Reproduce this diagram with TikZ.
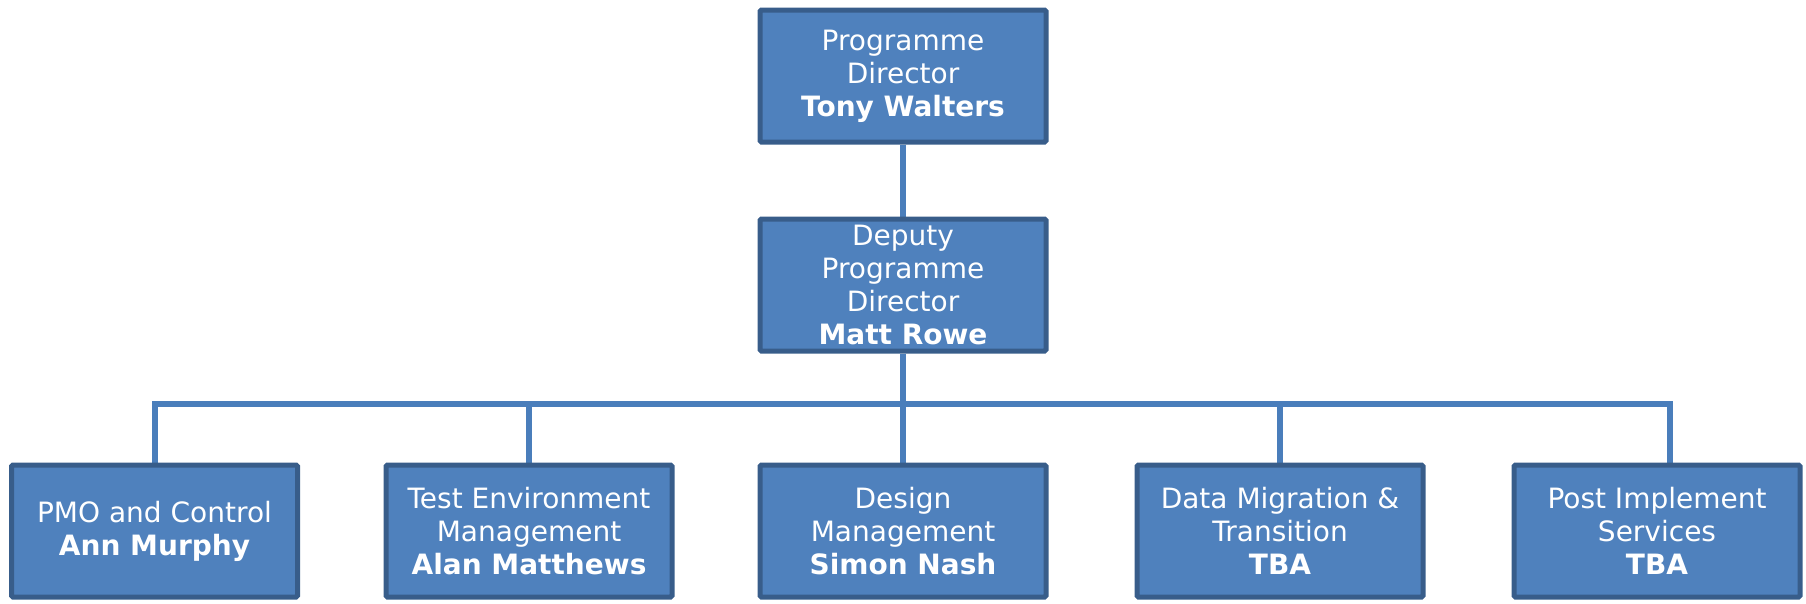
\documentclass[tikz,border=0pt]{standalone}
\usepackage{fontspec}
\setmainfont{DejaVu Sans}
\usetikzlibrary{calc}
\definecolor{boxfill}{HTML}{4F81BD}
\definecolor{boxline}{HTML}{385D8A}
\definecolor{connline}{HTML}{4A7EBB}
\pgfdeclarelayer{background}
\pgfsetlayers{background,main}
\begin{document}
\begin{tikzpicture}[x=1pt,y=-1pt,
  orgbox/.style={draw=boxline, fill=boxfill, line width=5pt, rounded corners=1.5pt,
    minimum width=286pt, minimum height=132pt, inner sep=0pt, text=white,
    align=center, font=\fontsize{28}{33}\selectfont},
  conn/.style={draw=connline, line width=6pt}]
\useasboundingbox (0,0) rectangle (1806,603);
\node[orgbox] (top) at (903,76) {Programme\\Director\\\textbf{Tony Walters}};
\node[orgbox] (mid) at (903,285) {\raisebox{-6pt}{\parbox{280pt}{\centering Deputy\\Programme\\Director\\\textbf{Matt Rowe}}}};
\node[orgbox] (b1) at (154.5,531) {PMO and Control\\\textbf{Ann Murphy}};
\node[orgbox] (b2) at (529,531) {Test Environment\\Management\\\textbf{Alan Matthews}};
\node[orgbox] (b3) at (903,531) {Design\\Management\\\textbf{Simon Nash}};
\node[orgbox] (b4) at (1280,531) {Data Migration \&\\Transition\\\textbf{TBA}};
\node[orgbox] (b5) at (1657,531) {Post Implement\\Services\\\textbf{TBA}};
\coordinate (busy) at (0,404);
\coordinate (b5drop) at ($(b5.north)+(13,0)$);
\begin{pgfonlayer}{background}
\draw[conn] (top.south) -- (mid.north);
\draw[conn] (b1.north) -- (b1.north |- busy) -- (b5drop |- busy) -- (b5drop);
\draw[conn] (mid.south) -- (b3.north);
\draw[conn] (b2.north) -- (b2.north |- busy);
\draw[conn] (b4.north) -- (b4.north |- busy);
\end{pgfonlayer}
\end{tikzpicture}
\end{document}
